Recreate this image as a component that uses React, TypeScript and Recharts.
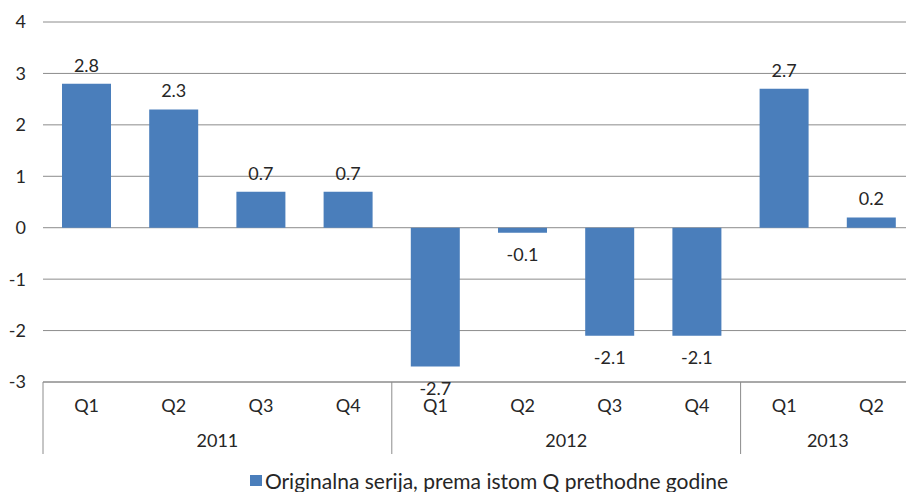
import React from 'react';
import { BarChart, Bar, XAxis, YAxis, CartesianGrid, Legend, LabelList } from 'recharts';

const quarters = ['Q1', 'Q2', 'Q3', 'Q4', 'Q1', 'Q2', 'Q3', 'Q4', 'Q1', 'Q2'];
const years = ['2011', '2011', '2011', '2011', '2012', '2012', '2012', '2012', '2013', '2013'];
const values = [2.8, 2.3, 0.7, 0.7, -2.7, -0.1, -2.1, -2.1, 2.7, 0.2];
const yTicks = [-3, -2, -1, 0, 1, 2, 3, 4];
const seriesName = 'Originalna serija, prema istom Q prethodne godine';

const data = quarters.map((q, i) => ({ key: i, q, year: years[i], value: values[i] }));

const FONT = 'Lato, "Open Sans", sans-serif';
const TEXT = '#262626';
const LINE = '#8c8c8c';
const BLUE = '#4a7ebb';

// two-level category tick: quarter label, then year label + group separators
const GroupTick = (props: any) => {
  const { x, y, payload, index } = props;
  const band = payload && payload.offset ? payload.offset * 2 : 87.2;
  const i = index ?? payload.index;
  const year = years[i];
  const first = i === 0 || years[i - 1] !== year;
  let count = 0;
  for (let k = i; k < years.length && years[k] === year; k++) count++;
  const top = y;
  return (
    <g>
      <text x={x} y={top + 23} textAnchor="middle" dominantBaseline="central" fill={TEXT} fontSize={18} fontFamily={FONT}>
        {quarters[i]}
      </text>
      {first && (
        <>
          <line x1={x - band / 2} x2={x - band / 2} y1={top} y2={top + 72} stroke={LINE} strokeWidth={1} />
          <text x={x + ((count - 1) * band) / 2} y={top + 58} textAnchor="middle" dominantBaseline="central" fill={TEXT} fontSize={18} fontFamily={FONT}>
            {year}
          </text>
        </>
      )}
    </g>
  );
};

const ValueLabel = (props: any) => {
  const { x, y, width, height, value } = props;
  const topY = Math.min(y, y + height);
  const bottomY = Math.max(y, y + height);
  const cy = value >= 0 ? topY - 19 : bottomY + 21;
  return (
    <text x={x + width / 2} y={cy} textAnchor="middle" dominantBaseline="central" fill={TEXT} fontSize={18} fontFamily={FONT}>
      {value}
    </text>
  );
};

const LegendContent = () => (
  <div style={{ display: 'flex', justifyContent: 'center', alignItems: 'center', height: 22, paddingLeft: 63, boxSizing: 'border-box', lineHeight: 1, transform: 'translateY(7px)' }}>
    <span style={{ width: 12, height: 11, background: BLUE, display: 'inline-block', marginRight: 3 }} />
    <span style={{ fontFamily: FONT, fontSize: 21, color: TEXT, lineHeight: 1 }}>{seriesName}</span>
  </div>
);

export default function App() {
  return (
    <div style={{ position: 'absolute', left: 0, top: 0, width: 906, height: 492, overflow: 'hidden', background: '#fff' }}>
      <BarChart width={906} height={492} data={data} margin={{ top: 22, right: -9, left: 0, bottom: 0 }} barSize={49}>
        <CartesianGrid horizontal vertical={false} stroke={LINE} strokeWidth={1} />
        <XAxis
          dataKey="key"
          height={80}
          axisLine={{ stroke: LINE }}
          tickLine={false}
          tickSize={0}
          tickMargin={0}
          interval={0}
          tick={<GroupTick />}
        />
        <YAxis
          width={43}
          domain={[-3, 4]}
          ticks={yTicks}
          axisLine={false}
          tickLine={false}
          tickSize={0}
          tickMargin={17}
          tick={{ fill: TEXT, fontSize: 18, fontFamily: FONT }}
        />
        <Legend verticalAlign="bottom" height={30} content={<LegendContent />} />
        <Bar dataKey="value" name={seriesName} fill={BLUE} isAnimationActive={false}>
          <LabelList dataKey="value" content={<ValueLabel />} />
        </Bar>
      </BarChart>
    </div>
  );
}
